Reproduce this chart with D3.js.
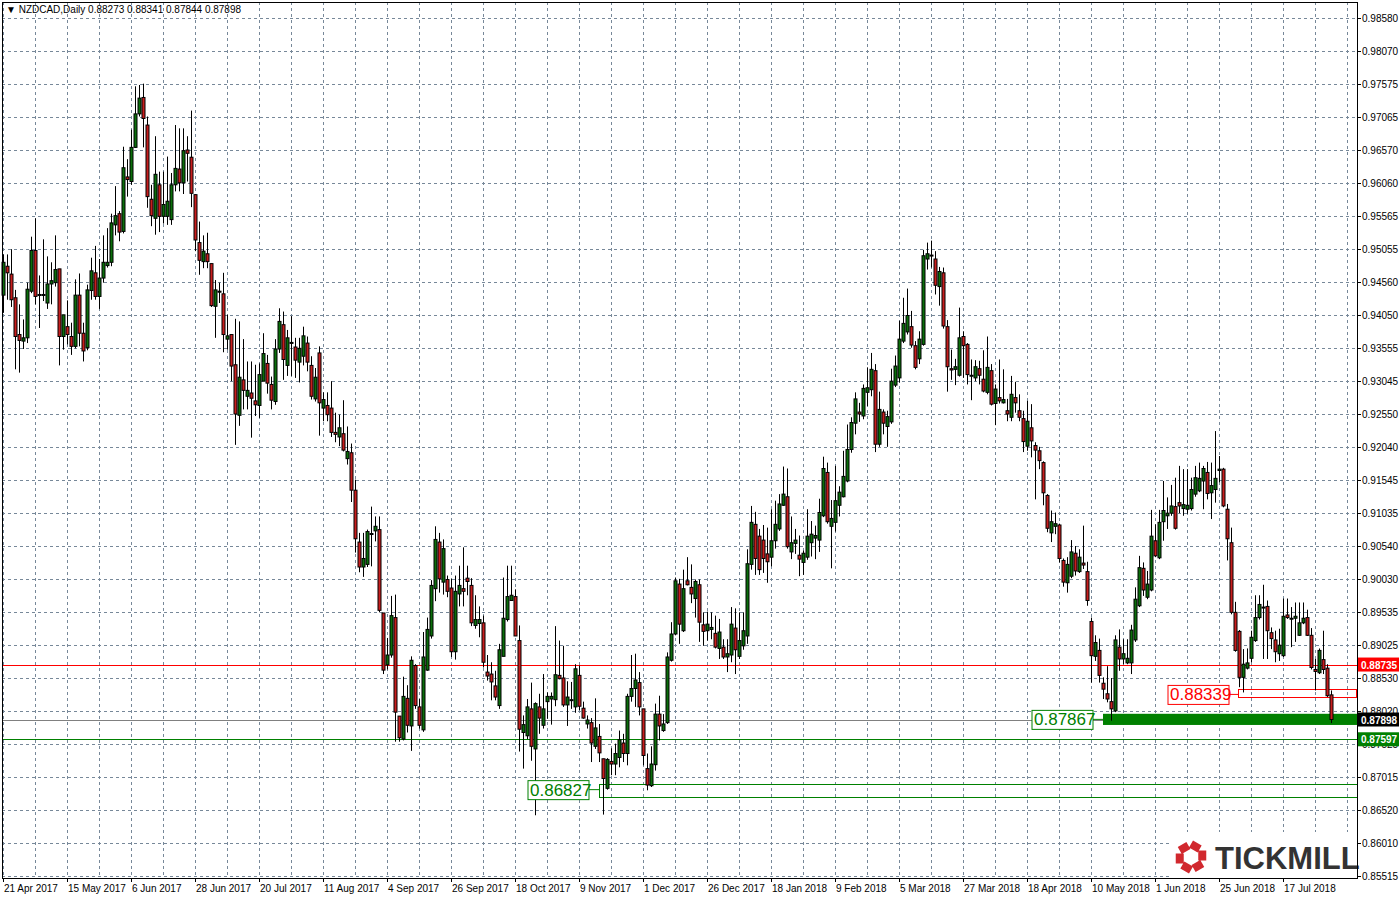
<html>
<head>
<script src="https://cdn.jsdelivr.net/npm/d3@7"></script>
<style>
body { margin:0; background:#fff; }
text { font-family: "Liberation Sans", Arial, sans-serif; }
</style>
<script>
// NZDCAD daily candles, prices x 10000
var opens = [9436,9480,9468,9432,9376,9366,9371,9442,9504,9437,9437,9424,9453,9455,9476,9373,9388,9373,9358,9436,9378,9356,9443,9470,9434,9462,9481,9486,9543,9560,9533,9616,9609,9661,9712,9737,9695,9582,9553,9604,9556,9556,9551,9604,9628,9607,9657,9646,9589,9516,9487,9499,9484,9419,9442,9438,9369,
9376,9330,9253,9307,9282,9287,9275,9268,9305,9332,9300,9274,9354,9391,9329,9364,9357,9334,9343,9363,9329,9278,9348,9264,9268,9264,9227,9220,9225,9187,9196,9139,9060,9022,9026,9073,9077,9079,8952,8873,8888,8945,8795,8760,8822,8780,8872,8809,8774,8865,8917,8989,9060,8999,9003,
8990,8893,8981,8989,9005,8994,8933,8936,8937,8862,8859,8841,8811,8886,8942,8971,8977,8910,8770,8765,8806,8745,8809,8781,8817,8821,8820,8857,8853,8812,8820,8809,8857,8807,8783,8785,8749,8764,8730,8685,8726,8722,8732,8754,8738,8825,8837,8846,8806,8715,8689,8721,8798,8773,8785,8880,8920,8996,
8925,9001,8991,8974,8995,8934,8925,8927,8921,8898,8900,8885,8888,8929,8886,8902,8917,9026,9087,9069,9063,9042,9037,9062,9080,9116,9129,9045,9058,9040,9029,9037,9059,9066,9063,9100,9166,9084,9090,9116,9129,9153,9201,9241,9258,9252,9288,9292,9321,9209,9258,9236,9243,9299,9310,
9366,9380,9388,9359,9339,9361,9491,9497,9491,9449,9470,9388,9324,9323,9314,9373,9361,9314,9310,9324,9308,9288,9321,9271,9280,9272,9260,9250,9280,9260,9248,9206,9234,9207,9199,9181,9131,9074,9084,9086,9032,8998,9008,9043,9015,9028,9015,8939,8886,8895,8845,8829,8817,8803,
8900,8882,8876,8876,8911,8963,9020,8976,8987,9062,9036,9091,9100,9104,9114,9120,9111,9110,9111,9133,9138,9153,9166,9135,9140,9169,9171,9110,9059,8953,8924,8854,8868,8883,8910,8945,8961,8962,8922,8911,8890,8887,8949,8944,8944,8918,8937,8945,8918,8866,8861,8881,8868,8827.3];
var closes = [9486,9470,9429,9373,9367,9371,9445,9504,9434,9437,9437,9453,9458,9475,9373,9406,9376,9358,9436,9378,9351,9444,9473,9434,9462,9486,9486,9546,9557,9532,9630,9612,9661,9712,9736,9705,9586,9557,9620,9556,9574,9579,9604,9629,9607,9656,9652,9591,9520,9489,9503,9487,9420,9444,9442,9376,9374,
9328,9255,9311,9291,9291,9279,9269,9315,9347,9302,9276,9354,9396,9338,9371,9364,9337,9355,9374,9334,9282,9311,9272,9277,9254,9227,9224,9234,9200,9198,9139,9065,9022,9035,9076,9073,9084,8956,8865,8888,8948,8801,8762,8825,8781,8880,8811,8781,8885,8927,8994,9064,9004,9050,8985,
8893,8985,8994,8985,9000,8937,8942,8942,8877,8856,8847,8824,8896,8944,8977,8979,8917,8775,8782,8809,8749,8814,8792,8806,8825,8825,8858,8852,8812,8824,8820,8867,8810,8792,8789,8754,8777,8739,8700,8729,8722,8738,8759,8738,8825,8837,8850,8809,8735,8690,8722,8798,8780,8783,8885,8920,9001,8935,
8989,8995,8981,9000,8938,8924,8935,8930,8900,8923,8885,8890,8935,8896,8910,8925,9027,9090,9035,9018,9035,9030,9062,9087,9118,9133,9053,9059,9063,9034,9043,9069,9072,9070,9105,9172,9091,9096,9123,9136,9160,9201,9242,9278,9255,9294,9295,9323,9209,9262,9241,9251,9305,9328,9369,
9393,9405,9360,9326,9369,9496,9499,9497,9451,9472,9389,9327,9322,9327,9371,9359,9315,9314,9327,9314,9290,9326,9270,9293,9275,9277,9255,9285,9272,9250,9213,9244,9214,9200,9184,9135,9081,9091,9088,9035,8999,9026,9045,9016,9037,9025,8971,8887,8907,8857,8836,8821,8806,8911,
8882,8890,8883,8926,8973,9021,8987,8996,9069,9039,9090,9108,9104,9115,9081,9115,9117,9116,9140,9158,9157,9172,9134,9146,9157,9171,9115,9065,8953,8895,8854,8874,8876,8915,8945,8965,8961,8925,8913,8893,8903,8947,8945,8944,8947,8937,8944,8918,8869,8863,8895,8866,8826,8789.8];
var highs = [9498,9498,9506,9444,9422,9399,9455,9525,9553,9466,9521,9495,9486,9527,9476,9406,9428,9394,9460,9469,9394,9452,9493,9511,9491,9527,9538,9560,9602,9564,9662,9643,9688,9754,9756,9758,9708,9604,9678,9624,9624,9647,9622,9695,9690,9690,9678,9717,9589,9548,9527,9531,9484,9459,9455,9470,9406,
9376,9400,9396,9369,9335,9335,9330,9332,9378,9345,9312,9369,9416,9411,9383,9404,9371,9371,9388,9373,9343,9325,9358,9288,9288,9305,9257,9254,9276,9236,9210,9155,9074,9074,9079,9114,9099,9099,8952,8914,8978,8980,8795,8855,8842,8886,8874,8821,8923,8945,9002,9084,9074,9064,9009,
9004,9009,9024,9052,9024,9005,8979,8962,8948,8888,8877,8864,8905,9006,9024,9024,8988,8933,8796,8821,8846,8816,8829,8859,8831,8831,8932,8910,8902,8848,8847,8874,8872,8817,8796,8792,8822,8783,8730,8731,8746,8753,8773,8768,8829,8888,8890,8862,8806,8738,8749,8814,8826,8798,8892,8938,9006,9004,
9018,9037,9026,9003,9003,8953,8954,8953,8948,8943,8912,8912,8961,8959,8953,8953,9049,9115,9106,9080,9086,9082,9110,9123,9133,9175,9172,9099,9080,9070,9047,9110,9092,9085,9126,9190,9181,9124,9176,9145,9199,9239,9250,9288,9272,9300,9326,9348,9331,9289,9262,9260,9324,9344,9397,
9432,9446,9412,9366,9381,9505,9516,9519,9503,9479,9478,9398,9353,9339,9417,9381,9363,9338,9337,9336,9352,9373,9331,9300,9338,9323,9278,9313,9304,9285,9260,9275,9270,9212,9205,9183,9133,9108,9105,9088,9035,9037,9063,9054,9049,9085,9030,8945,8918,8913,8854,8871,8853,8918,
8927,8912,8912,8934,8991,9039,9029,9016,9109,9087,9109,9153,9128,9147,9158,9176,9171,9171,9158,9176,9181,9176,9182,9181,9229,9191,9173,9118,9082,8969,8926,8897,8898,8925,8979,8979,8995,8971,8930,8925,8928,8974,8974,8961,8968,8968,8968,8957,8929,8882,8898,8925,8874,8834.1];
var lows = [9409,9429,9418,9323,9318,9354,9363,9439,9422,9386,9427,9415,9422,9449,9329,9353,9361,9345,9355,9358,9335,9352,9429,9429,9415,9455,9478,9480,9527,9518,9530,9586,9604,9660,9708,9661,9569,9541,9528,9532,9545,9543,9543,9594,9594,9590,9609,9570,9503,9467,9477,9477,9418,9371,9424,9349,9353,
9305,9208,9237,9262,9262,9219,9252,9249,9305,9286,9262,9269,9348,9307,9313,9313,9310,9303,9329,9320,9277,9274,9222,9244,9244,9220,9212,9206,9198,9178,9121,9044,9014,9007,9022,9023,9061,8953,8859,8866,8884,8756,8756,8758,8770,8742,8806,8776,8771,8864,8913,8970,8983,8980,8976,
8885,8881,8962,8962,8979,8932,8928,8915,8869,8849,8819,8819,8806,8886,8939,8971,8917,8741,8715,8760,8727,8644,8768,8776,8791,8782,8810,8851,8809,8780,8806,8800,8804,8791,8776,8725,8745,8725,8645,8683,8705,8705,8717,8725,8720,8817,8809,8796,8720,8682,8687,8712,8758,8771,8783,8878,8918,8905,
8923,8994,8967,8945,8908,8902,8910,8912,8898,8882,8882,8862,8877,8859,8882,8896,8905,9018,9010,9010,9013,8998,9023,9050,9077,9115,9050,9034,9042,9008,9010,9033,9038,9034,9045,9098,9088,9020,9076,9099,9128,9151,9196,9224,9243,9247,9267,9282,9197,9205,9224,9205,9240,9296,9303,
9363,9376,9356,9323,9331,9359,9475,9478,9437,9420,9385,9289,9307,9299,9312,9310,9300,9276,9305,9300,9288,9285,9268,9238,9271,9271,9244,9244,9257,9244,9197,9199,9189,9125,9171,9116,9075,9060,9072,9029,8992,8983,9005,9009,9013,9019,8963,8846,8879,8846,8821,8816,8788,8801,
8864,8874,8874,8859,8908,8961,8978,8973,8985,9037,9034,9062,9080,9100,9079,9104,9100,9103,9108,9129,9136,9110,9125,9095,9120,9151,9113,9032,8950,8893,8839,8831,8866,8877,8908,8942,8882,8882,8897,8877,8879,8885,8943,8900,8908,8917,8935,8917,8866,8834,8859,8859,8824,8784.4];

// x-axis labels, one every 16 bars starting at bar 0
var dateLabels = ["21 Apr 2017","15 May 2017","6 Jun 2017","28 Jun 2017","20 Jul 2017","11 Aug 2017","4 Sep 2017","26 Sep 2017","18 Oct 2017","9 Nov 2017","1 Dec 2017","26 Dec 2017","18 Jan 2018","9 Feb 2018","5 Mar 2018","27 Mar 2018","18 Apr 2018","10 May 2018","1 Jun 2018","25 Jun 2018","17 Jul 2018"];
var priceTicks = [0.98580,0.98070,0.97575,0.97065,0.96570,0.96060,0.95565,0.95055,0.94560,0.94050,0.93555,0.93045,0.92550,0.92040,0.91545,0.91035,0.90540,0.90030,0.89535,0.89025,0.88530,0.88020,0.87525,0.87015,0.86520,0.86010,0.85515];

// levels drawn on chart
var resistance = 0.88735, lastPrice = 0.87898, support = 0.87597;
var zoneHigh = 0.88339, zoneLow = 0.87867, zoneOld = 0.86827;
</script>
</head>
<body>
<div id="display"></div>
<script>
var W = 1400, H = 900, plotL = 2, plotR = 1357, plotT = 2, plotB = 878;
var svg = d3.select('#display').append('svg').attr('width', W).attr('height', H);

var y = d3.scaleLinear().domain([0.85515, 0.98580]).range([876, 18]);
var x = d3.scaleLinear().domain([0, 1]).range([3, 7]); // 4px per bar
var n = closes.length;

var g = svg.append('g');
// vertical grid every 8 bars
g.selectAll('line.vg').data(d3.range(0, 340, 8)).enter().append('line')
    .attr('x1', function(d){ return x(d)+0.5; }).attr('x2', function(d){ return x(d)+0.5; })
    .attr('y1', plotT).attr('y2', plotB)
    .attr('stroke', '#778899').attr('stroke-dasharray', '3,3');
g.selectAll('line.hg').data(priceTicks).enter().append('line')
    .attr('x1', plotL).attr('x2', plotR)
    .attr('y1', function(d){ return Math.round(y(d))+0.5; }).attr('y2', function(d){ return Math.round(y(d))+0.5; })
    .attr('stroke', '#778899').attr('stroke-dasharray', '3,3');

// levels
function hline(p, col){
    svg.append('line').attr('x1', plotL).attr('x2', plotR)
        .attr('y1', Math.round(y(p))+0.5).attr('y2', Math.round(y(p))+0.5)
        .attr('stroke', col).attr('stroke-width', 1);
}
hline(resistance, '#ff0000');
hline(lastPrice, '#808080');
hline(support, '#008000');

// zone rectangles
svg.append('rect').attr('x', x(275)).attr('y', y(0.87985)).attr('width', plotR - x(275)).attr('height', y(0.87815) - y(0.87985))
    .attr('fill', '#008000');
svg.append('rect').attr('x', x(309)-0.5).attr('y', Math.round(y(zoneHigh+0.00025))+0.5).attr('width', plotR - x(309)).attr('height', 8)
    .attr('fill', 'none').attr('stroke', '#ff0000');
svg.append('rect').attr('x', x(149)+0.5).attr('y', Math.round(y(0.86915))+0.5).attr('width', plotR - x(149)).attr('height', 13)
    .attr('fill', 'none').attr('stroke', '#008000');

// candles
var c = svg.append('g');
c.selectAll('line.w').data(d3.range(n)).enter().append('line')
    .attr('x1', function(i){ return x(i)+0.5; }).attr('x2', function(i){ return x(i)+0.5; })
    .attr('y1', function(i){ return y(Math.max(highs[i], opens[i], closes[i])/10000); })
    .attr('y2', function(i){ return y(Math.min(lows[i], opens[i], closes[i])/10000); })
    .attr('stroke', '#000');
c.selectAll('rect.b').data(d3.range(n)).enter().append('rect')
    .attr('x', function(i){ return x(i)-1; })
    .attr('y', function(i){ return y(Math.max(opens[i], closes[i])/10000); })
    .attr('width', 3)
    .attr('height', function(i){ return Math.max(1, y(Math.min(opens[i], closes[i])/10000) - y(Math.max(opens[i], closes[i])/10000)); })
    .attr('fill', function(i){ return closes[i] >= opens[i] ? '#0b6e0b' : '#c81e1e'; })
    .attr('stroke', '#000').attr('stroke-width', 1);

// labelled boxes on chart
function tagBox(x0, p, txt, col){
    var yy = y(p);
    svg.append('rect').attr('x', x0).attr('y', yy-9).attr('width', 61).attr('height', 19)
        .attr('fill', '#fff').attr('stroke', col);
    svg.append('text').attr('x', x0+2).attr('y', yy+6).attr('fill', col)
        .attr('font-size', 17).text(txt);
    return yy;
}
var t1 = tagBox(1168, 0.88280, zoneHigh.toFixed(5), '#ff0000');
svg.append('line').attr('x1', 1229).attr('x2', x(309)).attr('y1', t1).attr('y2', t1).attr('stroke', '#ff0000');
var t2 = tagBox(1032, 0.87900, zoneLow.toFixed(5), '#008000');
svg.append('line').attr('x1', 1093).attr('x2', x(275)).attr('y1', t2).attr('y2', t2).attr('stroke', '#008000');
var t3 = tagBox(528, 0.86830, zoneOld.toFixed(5), '#008000');
svg.append('line').attr('x1', 589).attr('x2', x(149)).attr('y1', t3).attr('y2', t3).attr('stroke', '#008000');

// logo
svg.append('rect').attr('x', 1170).attr('y', 832).attr('width', 185).attr('height', 45).attr('fill', '#fff');
var hex = d3.range(6).map(function(k){ var a = Math.PI/3*k + Math.PI/6; return [1191 + 13*Math.cos(a), 857 + 13*Math.sin(a)]; });
svg.append('path').attr('d', 'M' + hex.join('L') + 'Z').attr('fill', 'none')
    .attr('stroke', '#d1282e').attr('stroke-width', 8).attr('stroke-dasharray', '10,3');
svg.append('text').attr('x', 1215).attr('y', 869).attr('font-size', 31).attr('font-weight', 'bold')
    .attr('fill', '#333').text('TICKMILL');

// frame
svg.append('rect').attr('x', plotL+0.5).attr('y', plotT+0.5).attr('width', plotR-plotL).attr('height', plotB-plotT)
    .attr('fill', 'none').attr('stroke', '#000');

// header
svg.append('text').attr('x', 6).attr('y', 13).attr('font-size', 10).attr('fill', '#000')
    .text('\u25BC NZDCAD,Daily  0.88273 0.88341 0.87844 0.87898');

// right price axis
var ra = svg.append('g');
ra.selectAll('line').data(priceTicks).enter().append('line')
    .attr('x1', plotR).attr('x2', plotR+4)
    .attr('y1', function(d){ return Math.round(y(d))+0.5; }).attr('y2', function(d){ return Math.round(y(d))+0.5; })
    .attr('stroke', '#000');
ra.selectAll('text').data(priceTicks).enter().append('text')
    .attr('x', 1362).attr('y', function(d){ return y(d)+4; })
    .attr('font-size', 10).attr('fill', '#000').text(function(d){ return d.toFixed(5); });
function priceTag(p, bg, fg){
    svg.append('rect').attr('x', 1358).attr('y', y(p)-7).attr('width', 41).attr('height', 14).attr('fill', bg);
    svg.append('text').attr('x', 1361).attr('y', y(p)+4).attr('font-size', 10).attr('font-weight', 'bold')
        .attr('fill', fg).text(p.toFixed(5));
}
priceTag(resistance, '#ff0000', '#fff');
priceTag(lastPrice, '#000', '#fff');
priceTag(support, '#008000', '#fff');

// bottom date axis
var ba = svg.append('g');
ba.selectAll('line').data(dateLabels).enter().append('line')
    .attr('x1', function(d, k){ return x(16*k)+0.5; }).attr('x2', function(d, k){ return x(16*k)+0.5; })
    .attr('y1', plotB).attr('y2', plotB+4).attr('stroke', '#000');
ba.selectAll('text').data(dateLabels).enter().append('text')
    .attr('x', function(d, k){ return x(16*k)+1; }).attr('y', 892)
    .attr('font-size', 10).attr('fill', '#000').text(function(d){ return d; });
</script>
</body>
</html>
